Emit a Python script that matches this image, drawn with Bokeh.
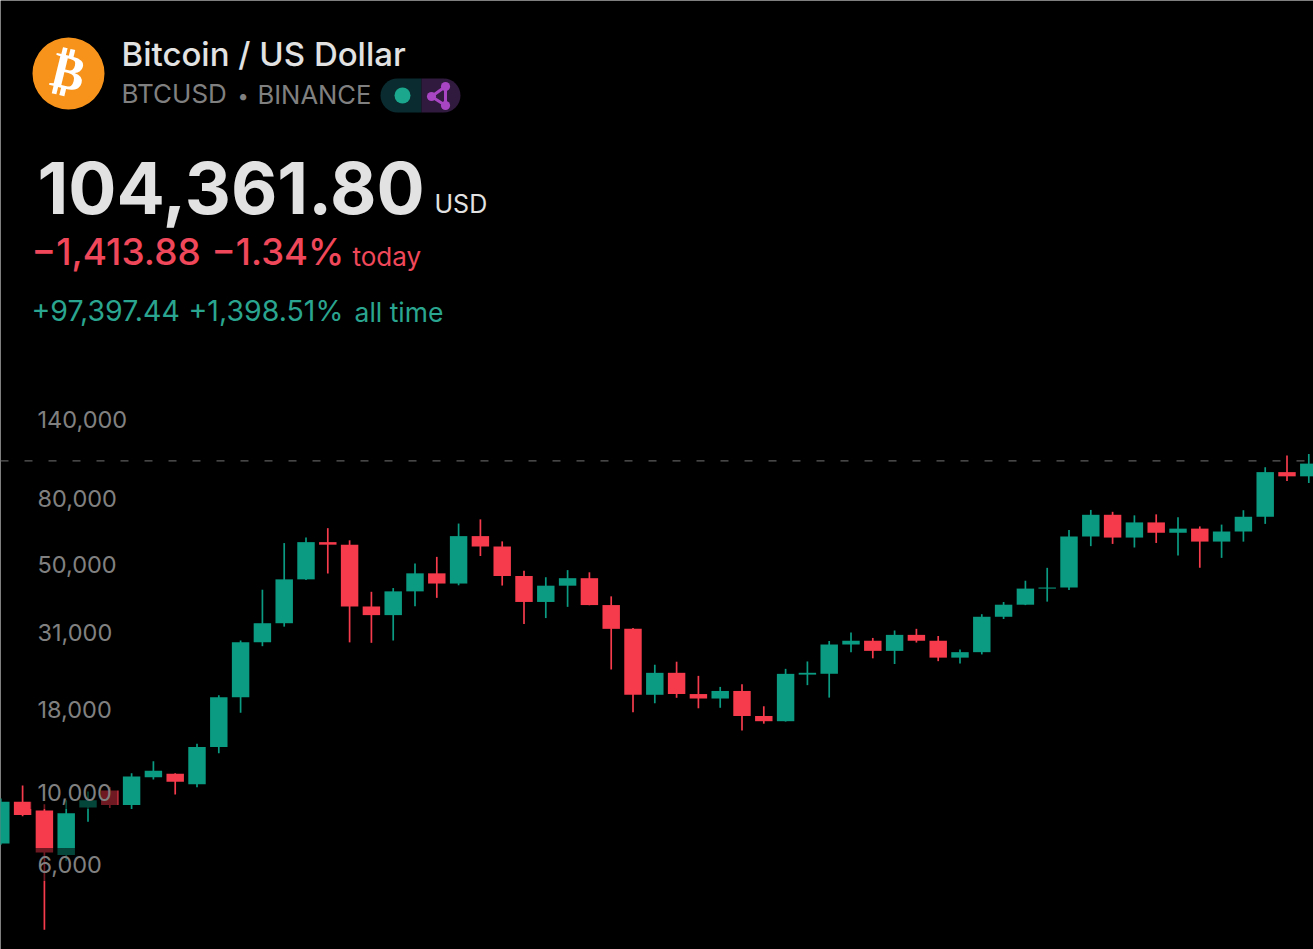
from bokeh.embed import file_html
from bokeh.resources import INLINE
from bokeh.models import ColumnDataSource, FixedTicker, Label, LinearScale, LogAxis, NumeralTickFormatter, Range1d, Span
from bokeh.plotting import figure

# ---- data -----------------------------------------------------------------
opens = [6960, 9351, 8795, 6412, 8976, 10130, 9138, 11130, 11400, 10590, 13791, 19608, 28923, 33092, 45134,
         58739, 57697, 37254, 35045, 41461, 47100, 43820, 61299, 56950, 46216, 38466, 43160, 45510, 37630, 31801,
         19942, 23296, 20048, 19422, 20490, 17165, 16541, 23000, 23141, 28465, 29233, 27210, 30472, 29232, 25940,
         26963, 34639, 37724, 42283, 42580, 61130, 71280, 60672, 67540, 62772, 64628, 58973, 63327, 70292, 96408,
         93576]
highs = [9578, 10500, 9188, 9460, 10067, 10380, 11444, 12468, 11450, 14100, 19863, 29300, 41950, 58352, 60700,
         64854, 59500, 41330, 42448, 50500, 52920, 66999, 69000, 59053, 47990, 45821, 48189, 47444, 40023, 31982,
         24668, 25202, 22799, 21085, 21480, 18387, 23960, 25250, 29184, 31000, 29820, 31431, 31804, 30225, 27483,
         35280, 38450, 44700, 48969, 64000, 73777, 72797, 71000, 71500, 70079, 65659, 66498, 73620, 99800, 108353,
         109588]
lows = [6900, 8445, 3782, 6150, 8117, 8950, 8893, 10950, 9850, 10374, 13195, 17572, 28130, 32296, 44950,
        47044, 28900, 28805, 29278, 37332, 39600, 43283, 53256, 43200, 32917, 34322, 37155, 37578, 23850, 17622,
        18781, 19520, 18125, 18190, 15476, 16256, 16499, 21351, 19549, 26942, 25811, 24800, 28861, 25300, 24901,
        26538, 34097, 37615, 38555, 41884, 57100, 58000, 56552, 58402, 53485, 49000, 52550, 58946, 66835, 90500,
        89256]
closes = [9352, 8523, 6530, 8620, 9448, 9138, 11180, 11649, 10776, 13791, 19608, 28923, 33092, 45135, 58740,
          57694, 37253, 35045, 41461, 47100, 43824, 61299, 56950, 46216, 38466, 43160, 45510, 37630, 31801, 19942,
          23293, 20050, 19423, 20490, 17164, 16542, 23125, 23300, 28465, 29233, 27210, 30472, 29232, 25940, 26963,
          34639, 37724, 42283, 42600, 61130, 71280, 60672, 67540, 62772, 64628, 58973, 63327, 70292, 96408, 93576,
          102400]
price_ticks = [6000, 10000, 18000, 31000, 50000, 80000, 140000]
last_price = 104361.80

title_text = "Bitcoin / US Dollar"
symbol_text = "BTCUSD"
bullet_text = "•"
exchange_text = "BINANCE"
price_text = "104,361.80"
currency_text = "USD"
today_change_text = "−1,413.88"
today_pct_text = "−1.34%"
today_text = "today"
all_time_change_text = "+97,397.44"
all_time_pct_text = "+1,398.51%"
all_time_text = "all time"
coin_glyph = "₿"

# ---- styles ----------------------------------------------------------------
GREEN = "#0A9B82"
RED = "#F53B4C"
W, H = 1313, 949
STEP = 21.8              # px per candle
Y_TOP, Y_BOTTOM = 2714000, 3288
MEDIUM = "'Inter Medium', Inter"

p = figure(width=W, height=H, output_backend="svg", toolbar_location=None,
           y_axis_type="log", x_axis_location=None, y_axis_location=None,
           x_range=Range1d(-0.3 / STEP, (W - 0.3) / STEP), y_range=Range1d(Y_BOTTOM, Y_TOP),
           background_fill_color="#000000", border_fill_color="#000000",
           outline_line_color=None, min_border=0)
p.grid.visible = False
p.extra_x_ranges = {"px": Range1d(0, W)}
p.extra_y_ranges = {"px": Range1d(H, 0)}
p.extra_x_scales = {"px": LinearScale()}
p.extra_y_scales = {"px": LinearScale()}
PX = dict(x_range_name="px", y_range_name="px")

# dashed last-price line
p.add_layout(Span(location=last_price, dimension="width", line_color="#5c5c5c", line_width=1.3,
                  line_dash=[8, 16], level="underlay"))

# candles
colors = [GREEN if c >= o else RED for o, c in zip(opens, closes)]
src = ColumnDataSource(dict(
    x=list(range(len(opens))), o=opens, h=highs, l=lows, c=closes, color=colors,
    top=[max(o, c) for o, c in zip(opens, closes)],
    bottom=[min(o, c) for o, c in zip(opens, closes)],
))
p.segment(x0="x", y0="h", x1="x", y1="l", line_color="color", line_width=1.7, source=src)
p.vbar(x="x", width=0.8, top="top", bottom="bottom", fill_color="color", line_color=None, source=src)

# translucent plates behind the scale labels
p.quad(left=[30, 30], right=[117, 104], top=[775.5, 847.5], bottom=[808.5, 880.5],
       fill_color="#000000", fill_alpha=0.55, line_color=None, **PX)

# price scale
axis = LogAxis(fixed_location=(37.0 - 0.3) / STEP,
               ticker=FixedTicker(ticks=price_ticks),
               formatter=NumeralTickFormatter(format="0,0"),
               axis_line_color=None, major_tick_line_color=None, minor_tick_line_color=None,
               major_tick_out=0, major_tick_in=0, minor_tick_out=0, minor_tick_in=0,
               major_label_standoff=0, major_label_text_color="#808080",
               major_label_text_font="Inter", major_label_text_font_size="23.5px")
p.add_layout(axis, "right")

# coin icon
p.circle(x=[68], y=[73], radius=36, fill_color="#F7931A", line_color=None, **PX)

# status pill
p.quad(left=[380], right=[421], top=[78], bottom=[112], fill_color="#0A2C30", line_color=None,
       border_radius=(17, 0, 0, 17), **PX)
p.quad(left=[421], right=[460], top=[78], bottom=[112], fill_color="#301A3D", line_color=None,
       border_radius=(0, 17, 17, 0), **PX)
p.circle(x=[402], y=[95], radius=8, fill_color="#1AA78D", line_color=None, **PX)
p.multi_line(xs=[[431, 445, 445, 431]], ys=[[96, 86, 105, 96]], line_color="#A845C2", line_width=3, **PX)
p.circle(x=[431, 445, 445], y=[96, 86, 105], radius=4.6, fill_color="#A845C2", line_color=None, **PX)


def add_text(text, x, y, size, color, style="normal", font="Inter", angle=0.0, align="left"):
    # y is the wanted baseline; the label's alphabetic anchor sits 0.37 em above the glyph baseline
    p.add_layout(Label(x=x, y=y - 0.37 * size, text=text, text_font=font, text_font_size=f"{size}px",
                       text_color=color, text_font_style=style, text_baseline="alphabetic",
                       text_align=align, angle=angle, **PX))


add_text(coin_glyph, 68, 90, 50, "#FFFFFF", style="bold", font="DejaVu Sans", angle=-0.24, align="center")
add_text(title_text, 121, 66, 33, "#E2E2E2", font=MEDIUM)
add_text(symbol_text, 121, 103, 26, "#808080")
add_text(bullet_text, 237, 103, 20, "#808080")
add_text(exchange_text, 257, 103, 25.6, "#808080")
add_text(price_text, 37, 214, 71.5, "#E2E2E2", style="bold")
add_text(currency_text, 434, 213, 25, "#E2E2E2")
add_text(today_change_text, 31, 265, 37, "#F0485A", font=MEDIUM)
add_text(today_pct_text, 211, 265, 36.5, "#F0485A", font=MEDIUM)
add_text(today_text, 352, 266, 26, "#F0485A")
add_text(all_time_change_text, 31, 321, 28.5, "#2AA58F")
add_text(all_time_pct_text, 188, 321, 28.5, "#2AA58F")
add_text(all_time_text, 354, 321, 26.5, "#2AA58F")

TEMPLATE = """<!DOCTYPE html>
<html lang="en"><head><meta charset="utf-8"><title>{{ title }}</title>
<style>html,body{margin:0;padding:0;background:#000;overflow:hidden}</style>
{{ bokeh_css }}{{ bokeh_js }}</head>
<body>{{ plot_div }}{{ plot_script }}</body></html>"""

open("out.html", "w").write(file_html(p, INLINE, template=TEMPLATE))
